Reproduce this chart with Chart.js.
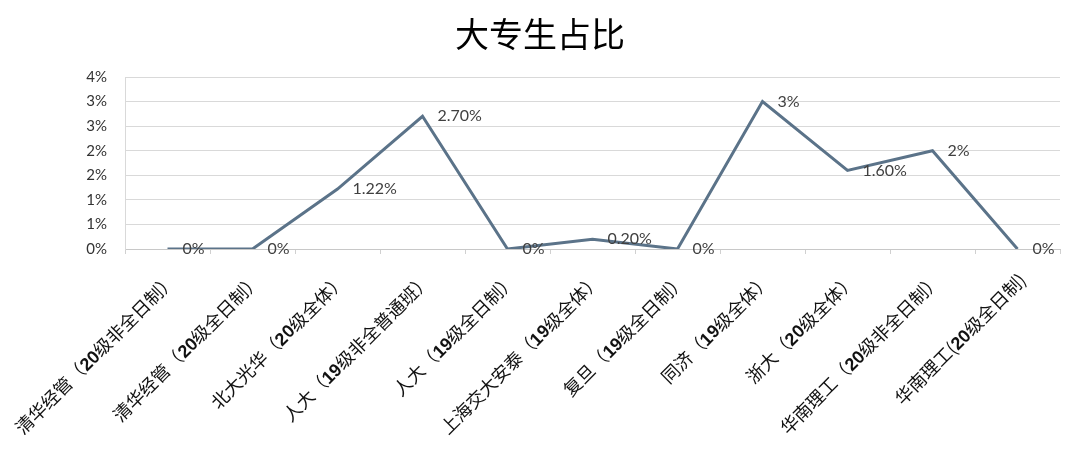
<!DOCTYPE html>
<html lang="zh-CN">
<head>
    <meta charset="UTF-8">
    <title>大专生占比</title>
    <style>
        /* digits in the category labels are bold in the original */
        @font-face {
            font-family: 'BoldDigits';
            src: local('Liberation Sans Bold'), local('LiberationSans-Bold');
            unicode-range: U+0030-0039;
        }
        html, body {
            margin: 0;
            padding: 0;
            background: #fff;
        }
    </style>
    <script src="https://cdn.jsdelivr.net/npm/chart.js@4.4.1/dist/chart.umd.min.js"></script>
</head>
<body>
    <canvas id="ratioChart" width="1080" height="458"></canvas>

    <script>
        const categories = [
            '清华经管（20级非全日制）',
            '清华经管（20级全日制）',
            '北大光华（20级全体）',
            '人大（19级非全普通班）',
            '人大（19级全日制）',
            '上海交大安泰（19级全体）',
            '复旦（19级全日制）',
            '同济（19级全体）',
            '浙大（20级全体）',
            '华南理工（20级非全日制）',
            '华南理工(20级全日制)'
        ];
        // percent
        const values = [0, 0, 1.22, 2.70, 0, 0.20, 0, 3.0, 1.60, 2.0, 0];
        const valueLabels = ['0%', '0%', '1.22%', '2.70%', '0%', '0.20%', '0%', '3%', '1.60%', '2%', '0%'];
        const yTickLabels = ['0%', '1%', '1%', '2%', '2%', '3%', '3%', '4%'];

        // value labels to the right of each point
        const pointLabels = {
            id: 'pointLabels',
            afterDatasetsDraw(chart) {
                const ctx = chart.ctx;
                const meta = chart.getDatasetMeta(0);
                ctx.save();
                ctx.font = '16px Lato, "Noto Sans CJK SC", sans-serif';
                ctx.fillStyle = '#404040';
                ctx.textBaseline = 'middle';
                ctx.textAlign = 'left';
                meta.data.forEach((pt, i) => {
                    ctx.fillText(valueLabels[i], pt.x + 15, pt.y);
                });
                ctx.restore();
            }
        };

        function drawChart() {
            const ctx = document.getElementById('ratioChart').getContext('2d');
            new Chart(ctx, {
                type: 'line',
                data: {
                    labels: categories,
                    datasets: [{
                        label: '大专生占比',
                        data: values,
                        borderColor: '#5b7389',
                        borderWidth: 3,
                        tension: 0,
                        pointRadius: 0,
                        pointHoverRadius: 0,
                        fill: false
                    }]
                },
                options: {
                    responsive: false,
                    animation: false,
                    events: [],
                    layout: {
                        padding: { left: 20, right: 20, top: 0, bottom: 0 }
                    },
                    scales: {
                        x: {
                            type: 'category',
                            offset: true,
                            grid: {
                                offset: true,
                                drawOnChartArea: false,
                                drawTicks: true,
                                tickLength: 5,
                                color: '#d0d0d0'
                            },
                            border: { color: '#c8c8c8' },
                            ticks: {
                                autoSkip: false,
                                minRotation: 45,
                                maxRotation: 45,
                                padding: 15,
                                labelOffset: 5,
                                color: '#111',
                                font: { family: 'BoldDigits, "Noto Sans CJK SC", sans-serif', size: 18 }
                            },
                            afterFit(scale) {
                                scale.height = 209;
                                scale.paddingLeft = 0;
                                scale.paddingRight = 0;
                            }
                        },
                        y: {
                            min: 0,
                            max: 3.5,
                            grid: {
                                color: '#d9d9d9',
                                drawTicks: false
                            },
                            border: { color: '#d9d9d9' },
                            ticks: {
                                stepSize: 0.5,
                                padding: 18,
                                color: '#333',
                                font: { family: 'Lato, sans-serif', size: 15 },
                                callback: (v, i) => yTickLabels[i]
                            },
                            afterFit(scale) {
                                scale.width = 105;
                                scale.paddingTop = 0;
                                scale.paddingBottom = 0;
                            }
                        }
                    },
                    plugins: {
                        legend: { display: false },
                        tooltip: { enabled: false },
                        title: {
                            display: true,
                            text: '大专生占比',
                            color: '#000',
                            font: { family: '"Noto Sans CJK SC", sans-serif', size: 34, weight: 'normal' },
                            padding: { top: 14, bottom: 22.2 }
                        }
                    }
                },
                plugins: [pointLabels]
            });
        }

        document.fonts.load('16px BoldDigits', '0123456789').then(drawChart, drawChart);
    </script>
</body>
</html>
